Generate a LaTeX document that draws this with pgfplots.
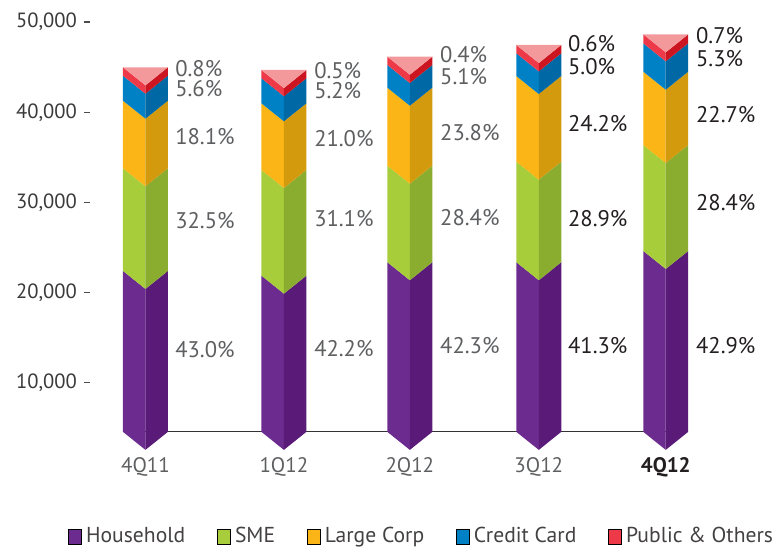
\documentclass[border=0pt]{standalone}
\usepackage{fontspec}
\setmainfont{PT Sans}
\usepackage{pgfplots}
\pgfplotsset{compat=1.18}
\definecolor{hhL}{HTML}{6C2B8F}
\definecolor{hhR}{HTML}{5A1A77}
\definecolor{smeL}{HTML}{A8CD3A}
\definecolor{smeR}{HTML}{8BAD2F}
\definecolor{lcL}{HTML}{FBB517}
\definecolor{lcR}{HTML}{D49A0D}
\definecolor{ccL}{HTML}{0080C5}
\definecolor{ccR}{HTML}{0068A4}
\definecolor{poL}{HTML}{EE3A48}
\definecolor{poR}{HTML}{CB1621}
\definecolor{poT}{HTML}{F4999B}
\definecolor{lblgrey}{HTML}{5E5F61}
\definecolor{lbldark}{HTML}{231F20}
\definecolor{ticktxt}{HTML}{3A3A3A}
\newcommand\pctfont{\fontsize{11.3}{12}\selectfont}
\begin{document}
\begin{tikzpicture}
\begin{axis}[
  scale only axis, width=346.5pt, height=272pt,
  xmin=90, xmax=783, ymin=-7838, ymax=52438,
  clip=false,
  axis line style={draw=none},
  xtick=\empty,
  ytick={10000,20000,30000,40000,50000},
  scaled y ticks=false,
  ytick pos=left,
  tick align=outside, major tick length=3pt,
  ytick style={draw=black!70, line width=0.6pt},
  /pgf/number format/assume math mode=true,
  /pgf/number format/1000 sep={,},
  yticklabel style={font=\fontsize{10.3}{12}\selectfont, text=ticktxt},
  unbounded coords=jump,
  legend columns=5,
  legend cell align=left,
  legend style={draw=none, fill=none, at={(axis cs:62,-7050)}, anchor=west,
    font=\fontsize{10.8}{12}\selectfont, text=lbldark!85,
    /tikz/every even column/.append style={column sep=14pt}},
  legend image code/.code={\fill[#1] (0pt,-3.7pt) rectangle (6.5pt,3.7pt);},
]
\addlegendimage{fill=hhL}\addlegendentry{Household}
\addlegendimage{fill=smeL}\addlegendentry{SME}
\addlegendimage{fill=lcL}\addlegendentry{Large Corp}
\addlegendimage{fill=ccL}\addlegendentry{Credit Card}
\addlegendimage{fill=poL}\addlegendentry{Public \& Others}

\path (axis cs:0,-7838) rectangle (axis cs:783,52438);

% x axis line
\addplot[draw=black!80, line width=0.6pt] coordinates {(145.5,4572) (666,4572)};

% Household
\addplot[fill=hhL, draw=none] coordinates {
(123,4572) (145.5,2572) (145.5,20411) (123,22411) (nan,nan)
(261.5,4572) (284,2572) (284,19890) (261.5,21890) (nan,nan)
(387.5,4572) (410,2572) (410,21375) (387.5,23375) (nan,nan)
(516.5,4572) (539,2572) (539,21375) (516.5,23375) (nan,nan)
(643.5,4572) (666,2572) (666,22627) (643.5,24627)};
\addplot[fill=hhR, draw=none] coordinates {
(145.5,2572) (168,4572) (168,22411) (145.5,20411) (nan,nan)
(284,2572) (306.5,4572) (306.5,21890) (284,19890) (nan,nan)
(410,2572) (432.5,4572) (432.5,23375) (410,21375) (nan,nan)
(539,2572) (561.5,4572) (561.5,23375) (539,21375) (nan,nan)
(666,2572) (688.5,4572) (688.5,24627) (666,22627)};
% SME
\addplot[fill=smeL, draw=none] coordinates {
(123,22411) (145.5,20411) (145.5,31790) (123,33790) (nan,nan)
(261.5,21890) (284,19890) (284,31602) (261.5,33602) (nan,nan)
(387.5,23375) (410,21375) (410,32078) (387.5,34078) (nan,nan)
(516.5,23375) (539,21375) (539,32521) (516.5,34521) (nan,nan)
(643.5,24627) (666,22627) (666,34372) (643.5,36372)};
\addplot[fill=smeR, draw=none] coordinates {
(145.5,20411) (168,22411) (168,33790) (145.5,31790) (nan,nan)
(284,19890) (306.5,21890) (306.5,33602) (284,31602) (nan,nan)
(410,21375) (432.5,23375) (432.5,34078) (410,32078) (nan,nan)
(539,21375) (561.5,23375) (561.5,34521) (539,32521) (nan,nan)
(666,22627) (688.5,24627) (688.5,36372) (666,34372)};
% Large Corp
\addplot[fill=lcL, draw=none] coordinates {
(123,33790) (145.5,31790) (145.5,39280) (123,41280) (nan,nan)
(261.5,33602) (284,31602) (284,38992) (261.5,40992) (nan,nan)
(387.5,34078) (410,32078) (410,40720) (387.5,42720) (nan,nan)
(516.5,34521) (539,32521) (539,42017) (516.5,44017) (nan,nan)
(643.5,36372) (666,34372) (666,42493) (643.5,44493)};
\addplot[fill=lcR, draw=none] coordinates {
(145.5,31790) (168,33790) (168,41280) (145.5,39280) (nan,nan)
(284,31602) (306.5,33602) (306.5,40992) (284,38992) (nan,nan)
(410,32078) (432.5,34078) (432.5,42720) (410,40720) (nan,nan)
(539,32521) (561.5,34521) (561.5,44017) (539,42017) (nan,nan)
(666,34372) (688.5,36372) (688.5,44493) (666,42493)};
% Credit Card
\addplot[fill=ccL, draw=none] coordinates {
(123,41280) (145.5,39280) (145.5,42050) (123,44050) (nan,nan)
(261.5,40992) (284,38992) (284,41762) (261.5,43762) (nan,nan)
(387.5,42720) (410,40720) (410,43236) (387.5,45236) (nan,nan)
(516.5,44017) (539,42017) (539,44532) (516.5,46532) (nan,nan)
(643.5,44493) (666,42493) (666,45640) (643.5,47640)};
\addplot[fill=ccR, draw=none] coordinates {
(145.5,39280) (168,41280) (168,44050) (145.5,42050) (nan,nan)
(284,38992) (306.5,40992) (306.5,43762) (284,41762) (nan,nan)
(410,40720) (432.5,42720) (432.5,45236) (410,43236) (nan,nan)
(539,42017) (561.5,44017) (561.5,46532) (539,44532) (nan,nan)
(666,42493) (688.5,44493) (688.5,47640) (666,45640)};
% Public & Others
\addplot[fill=poL, draw=none] coordinates {
(123,44050) (145.5,42050) (145.5,42981) (123,44981) (nan,nan)
(261.5,43762) (284,41762) (284,42682) (261.5,44682) (nan,nan)
(387.5,45236) (410,43236) (410,44155) (387.5,46155) (nan,nan)
(516.5,46532) (539,44532) (539,45452) (516.5,47452) (nan,nan)
(643.5,47640) (666,45640) (666,46637) (643.5,48637)};
\addplot[fill=poR, draw=none] coordinates {
(145.5,42050) (168,44050) (168,44981) (145.5,42981) (nan,nan)
(284,41762) (306.5,43762) (306.5,44682) (284,42682) (nan,nan)
(410,43236) (432.5,45236) (432.5,46155) (410,44155) (nan,nan)
(539,44532) (561.5,46532) (561.5,47452) (539,45452) (nan,nan)
(666,45640) (688.5,47640) (688.5,48637) (666,46637)};
\addplot[fill=poT, draw=none] coordinates {
(123,44981) (168,44981) (145.5,42981) (nan,nan)
(261.5,44682) (306.5,44682) (284,42682) (nan,nan)
(387.5,46155) (432.5,46155) (410,44155) (nan,nan)
(516.5,47452) (561.5,47452) (539,45452) (nan,nan)
(643.5,48637) (688.5,48637) (666,46637)};

% percentage labels
\addplot[draw=none, point meta=explicit symbolic, nodes near coords={\pgfplotspointmeta\%},
  every node near coord/.append style={anchor=west, inner sep=0pt, font=\pctfont, text=lblgrey}]
  table[meta=m] {
x y m
175 44792 0.8
175 42576 5.6
175 37258 18.1
175 27951 32.5
175 13658 43.0
314 44571 0.5
314 42355 5.2
314 37036 21.0
314 28172 31.1
314 13769 42.2
440 46344 0.4
440 43906 5.1
440 37701 23.8
440 28283 28.4
440 14101 42.3
};
\addplot[draw=none, point meta=explicit symbolic, nodes near coords={\pgfplotspointmeta\%},
  every node near coord/.append style={anchor=west, inner sep=0pt, font=\pctfont, text=lbldark}]
  table[meta=m] {
x y m
568 47562 0.6
568 45014 5.0
568 38698 24.2
568 28172 28.9
568 14101 41.3
696 48449 0.7
696 45900 5.3
696 39696 22.7
696 29945 28.4
696 14101 42.9
};
% category labels
\addplot[draw=none, point meta=explicit symbolic, nodes near coords,
  every node near coord/.append style={anchor=center, inner sep=0pt, font=\fontsize{10.5}{12}\selectfont, text=lblgrey}]
  table[meta=m] {
x y m
145.5 694 4Q11
284 694 1Q12
410 694 2Q12
539 694 3Q12
};
\addplot[draw=none, point meta=explicit symbolic, nodes near coords,
  every node near coord/.append style={anchor=center, inner sep=0pt, font=\fontsize{10.5}{12}\selectfont\bfseries, text=lbldark}]
  table[meta=m] {
x y m
666 694 4Q12
};
\end{axis}
\end{tikzpicture}
\end{document}
